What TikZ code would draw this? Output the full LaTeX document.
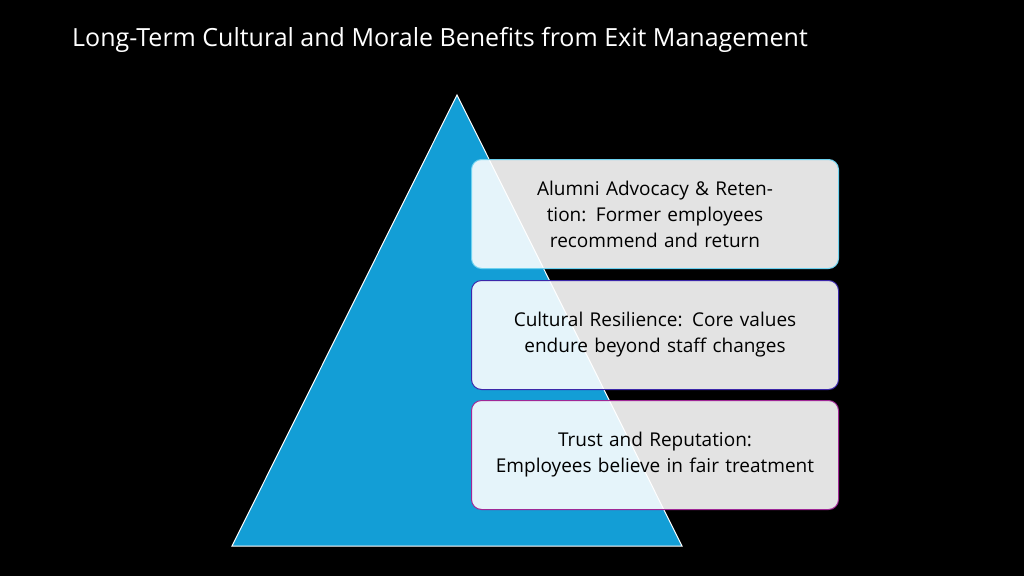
\documentclass[tikz,border=0pt]{standalone}
\usepackage{fontspec}
\setmainfont{Open Sans}
\begin{document}
\begin{tikzpicture}[x=1pt,y=-1pt,
  infobox/.style={draw, line width=1pt, rounded corners=10pt, fill=white, fill opacity=0.89, text opacity=1,
    minimum width=367pt, minimum height=109pt, align=center, text width=355pt,
    font=\fontsize{19}{26}\selectfont, text=black, anchor=north west, inner sep=0pt}]
\fill[black] (0,0) rectangle (1024,576);
\useasboundingbox (0,0) rectangle (1024,576);
\node[anchor=west, text=white, font=\fontsize{25}{30}\selectfont, inner sep=0pt] (title) at (72,40) {Long-Term Cultural and Morale Benefits from Exit Management};
\draw[white, line width=1pt, fill={rgb,255:red,19;green,158;blue,214}] (457,95) coordinate (apex) -- (682,546) coordinate (br) -- (232,546) coordinate (bl) -- cycle;
\node[infobox, draw={rgb,255:red,110;green,210;blue,240}] (b1) at (471,159) {Alumni Advocacy \& Retention: Former employees\\recommend and return};
\node[infobox, draw={rgb,255:red,60;green,40;blue,170}] (b2) at (471,280) {Cultural Resilience: Core values endure beyond staff changes};
\node[infobox, draw={rgb,255:red,160;green,40;blue,150}] (b3) at (471,400) {Trust and Reputation:\\Employees believe in fair treatment};
\end{tikzpicture}
\end{document}
